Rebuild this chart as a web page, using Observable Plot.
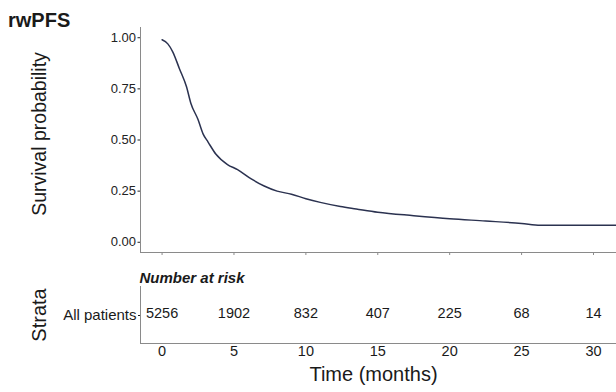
<!DOCTYPE html>
<html>
<head>
<meta charset="utf-8">
<script src="https://cdn.jsdelivr.net/npm/d3@7"></script>
<script src="https://cdn.jsdelivr.net/npm/@observablehq/plot@0.6"></script>
<style>
  html, body { margin: 0; padding: 0; background: #fff; }
  #wrap { position: relative; width: 616px; height: 392px; font-family: "Liberation Sans", Arial, Helvetica, sans-serif; color: #1a1a1a; }
  #title { position: absolute; left: 8px; top: 10px; font-size: 20px; font-weight: bold; line-height: 20px; }
  #topPanel { position: absolute; left: 0; top: 0; }
  #bottomPanel { position: absolute; left: 0; top: 262px; }
</style>
</head>
<body>
<div id="wrap">
  <div id="topPanel"></div>
  <div id="bottomPanel"></div>
  <div id="title">rwPFS</div>
</div>
<script>
// Survival curve
const times = [0, 0.4, 0.75, 1.2, 1.7, 2.0, 2.5, 2.85, 3.2, 3.75, 4.55, 5.25, 6.2, 7.1, 8.0, 9.0, 10, 11, 12.4, 13.5, 15, 17.5, 20, 22.5, 25, 26.3, 31.6];
const surv  = [0.99, 0.97, 0.93, 0.85, 0.76, 0.68, 0.60, 0.53, 0.49, 0.43, 0.38, 0.355, 0.31, 0.275, 0.25, 0.235, 0.213, 0.195, 0.175, 0.163, 0.147, 0.13, 0.115, 0.104, 0.092, 0.083, 0.083];

// Number at risk table
const strata = ["All patients"];
const riskTimes = [0, 5, 10, 15, 20, 25, 30];
const riskCounts = [5256, 1902, 832, 407, 225, 68, 14];

// Tick values
const xTicks = [0, 5, 10, 15, 20, 25, 30];
const yTicks = [0, 0.25, 0.5, 0.75, 1];

const curveData = times.map((t, i) => ({t, s: surv[i]}));
const riskData = riskTimes.map((t, i) => ({t, n: String(riskCounts[i]), strata: strata[0]}));

const fontFam = "Liberation Sans, Arial, Helvetica, sans-serif";
const axisGray = "#8a8a8a";
const xDomain = [-1.5, 31.6];

const survPlot = Plot.plot({
  width: 616, height: 262,
  marginLeft: 140, marginRight: 0, marginTop: 27, marginBottom: 10,
  style: {fontFamily: fontFam, background: "transparent", color: "#1a1a1a"},
  x: {domain: xDomain},
  y: {domain: [-0.05, 1.05]},
  marks: [
    Plot.axisY(yTicks, {tickFormat: d3.format(".2f"), tickSize: 2.5, tickPadding: 2, fontSize: 13, color: "#222", label: null}),
    Plot.axisX(xTicks, {tickSize: 3, tickFormat: () => "", color: axisGray, label: null}),
    Plot.frame({anchor: "left", stroke: axisGray}),
    Plot.frame({anchor: "bottom", stroke: axisGray}),
    Plot.lineY(curveData, {x: "t", y: "s", stroke: "#2b3250", strokeWidth: 1.5, curve: "monotone-x"}),
    Plot.text(["Survival probability"], {frameAnchor: "left", textAnchor: "middle", dx: -101, dy: -6, rotate: -90, fontSize: 19.5, fill: "#1a1a1a"})
  ]
});
document.getElementById("topPanel").appendChild(survPlot);

const riskPlot = Plot.plot({
  width: 616, height: 130,
  marginLeft: 140, marginRight: 0, marginTop: 24, marginBottom: 49,
  style: {fontFamily: fontFam, background: "transparent", color: "#1a1a1a"},
  x: {domain: xDomain},
  y: {type: "point", domain: strata},
  marks: [
    Plot.frame({anchor: "left", stroke: axisGray}),
    Plot.frame({anchor: "bottom", stroke: axisGray}),
    Plot.axisY({tickSize: 2, tickPadding: 2, fontSize: 15, color: "#1a1a1a", label: null}),
    Plot.axisX(xTicks, {tickSize: 0, tickPadding: 2, fontSize: 14.5, color: "#1a1a1a", label: null}),
    Plot.text(riskData, {x: "t", y: "strata", text: "n", fontSize: 14.5, dy: -2, fill: "#1a1a1a"}),
    Plot.text(["Number at risk"], {frameAnchor: "top-left", textAnchor: "start", dx: -1, dy: -14, fontSize: 15, fontWeight: "bold", fontStyle: "italic", fill: "#1a1a1a"}),
    Plot.text(["Strata"], {frameAnchor: "left", textAnchor: "middle", dx: -101, rotate: -90, fontSize: 20, fill: "#1a1a1a"}),
    Plot.text(["Time (months)"], {frameAnchor: "bottom", dy: 37, dx: -5, fontSize: 20, fill: "#1a1a1a"})
  ]
});
document.getElementById("bottomPanel").appendChild(riskPlot);
</script>
</body>
</html>
